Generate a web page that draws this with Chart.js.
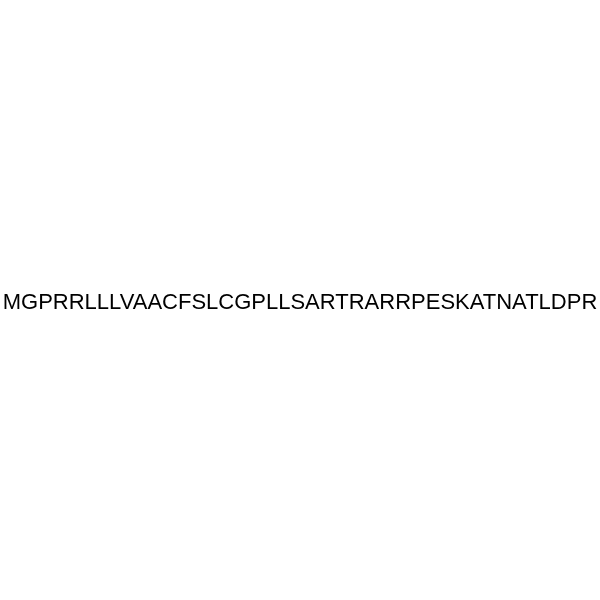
<!DOCTYPE html>
<html>
<head>
<meta charset="utf-8">
<script src="https://cdn.jsdelivr.net/npm/chart.js@4"></script>
<style>
  html, body { margin: 0; padding: 0; background: #fff; }
  #wrap { width: 600px; height: 600px; }
</style>
</head>
<body>
<div id="wrap"><canvas id="myChart" width="600" height="600"></canvas></div>
<script>
// peptide sequence, one residue per entry
let residues = ['M','G','P','R','R','L','L','L','V','A','A','C','F','S','L','C','G','P','L','L',
                'S','A','R','T','R','A','R','R','P','E','S','K','A','T','N','A','T','L','D','P','R'];
let labels = [];
let values = [];

// draws the sequence across the middle of the canvas
let sequencePlugin = {
    id: 'sequenceText',
    afterDraw: function(chart) {
        let ctx = chart.ctx;
        ctx.save();
        ctx.fillStyle = '#000';
        ctx.font = '22px "Liberation Sans", Arial, sans-serif';
        ctx.textAlign = 'center';
        ctx.textBaseline = 'alphabetic';
        ctx.fillText(residues.join(''), chart.width / 2, 308.5);
        ctx.restore();
    }
};

let ctx = document.getElementById('myChart').getContext('2d');
var myChart = new Chart(ctx, {
    type: 'bar',
    data: {
        labels: labels,
        datasets: [{
            data: values
        }]
    },
    options: {
        responsive: false,
        animation: false,
        layout: { padding: 0 },
        plugins: {
            legend: { display: false },
            tooltip: { enabled: false }
        },
        scales: {
            x: { display: false },
            y: { display: false }
        }
    },
    plugins: [sequencePlugin]
});
</script>
</body>
</html>
